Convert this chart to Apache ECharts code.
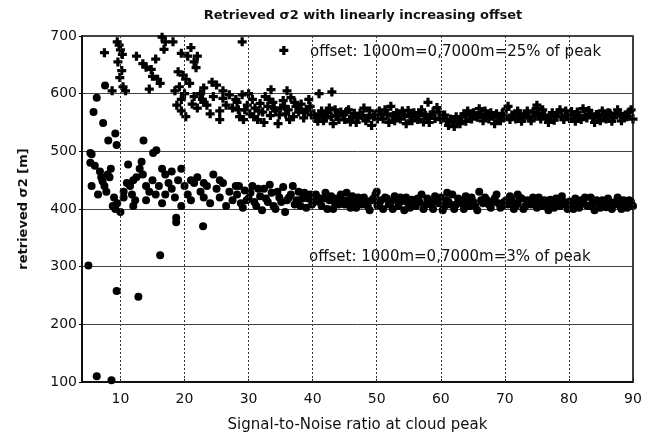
<!DOCTYPE html>
<html>
<head>
<meta charset="utf-8">
<script src="https://cdn.jsdelivr.net/npm/echarts@6/dist/echarts.min.js"></script>
<style>
  html, body { margin: 0; padding: 0; background: #fff; }
  #chart { width: 651px; height: 443px; }
</style>
</head>
<body>
<div id="chart"></div>
<script>
// tick labels
var xTicks = [10, 20, 30, 40, 50, 60, 70, 80, 90];
var yTicks = [100, 200, 300, 400, 500, 600, 700];

// crosses: offset 25% of peak  [snr, retrieved]
var crossScatter = [
  [7.5,671],[9.5,690],[9.8,684],[10,676],[10.3,668],[9.6,655],[10.2,640],[9.9,628],[10.4,612],
  [10.8,605],[8.7,605],[12.5,665],[13.5,652],[14,646],[14.8,642],[15.5,660],[15,630],[15.8,625],
  [16.2,618],[14.5,608],[16.5,698],[17,690],[16.8,677],[18.2,690],[19.5,670],[21,680],[20.5,665],
  [22,665],[21.5,655],[21.8,645],[19,638],[19.8,632],[20.2,625],[20.8,618],[19.2,612],[18.5,605],
  [20,600],[21.5,595],[22.5,600],[23,610],[24.3,620],[25,615],[22.8,590],[21.2,582],[19.5,590],
  [18.8,580],[19.5,570],[20.2,560],[22,575],[23.5,580],[24.5,595],[26,605],[27,598],[28,590],
  [27.5,575],[26.5,580],[25.5,570],[24,565],[29,690],[35.5,675],[25.5,555],[23,585],[26,592]
];
var crossBand = [
  [28.2,585],[28.6,560],[29,598],[29.4,572],[29.8,580],[30.2,565],[30.6,590],[31,575],[31.4,555],
  [31.8,583],[32.2,568],[32.6,595],[33,578],[33.4,562],[33.8,585],[34.2,570],[34.6,548],[35,575],
  [35.4,588],[35.8,565],[36.2,572],[36.6,593],[37,560],[37.4,578],[37.8,568],[38.2,582],[38.6,558],
  [39,572],[39.4,590],[39.8,563],[28.4,572],[29.2,555],[30,600],[30.8,560],[31.6,570],[32.4,550],
  [33.2,590],[34,575],[34.8,563],[35.6,578],[36.4,555],[37.2,585],[38,573],[38.8,567],[39.6,578],
  [36,605],[41,600],[43,603],[33.5,607],
  [40.2,565],[40.8,552],[41.4,570],[42,558],[42.6,575],[43.2,548],[43.8,562],[44.4,568],[45,555],
  [45.6,572],[46.2,560],[46.8,550],[47.4,566],[48,575],[48.6,558],[49.2,545],[49.8,563],[50.4,570],
  [51,556],[51.6,565],[52.2,578],[52.8,553],[53.4,562],[54,570],[54.6,548],[55.2,560],[55.8,567],
  [56.4,555],[57,572],[57.6,562],[58.2,550],[58.8,568],[59.4,576],[60,555],[60.6,563],[61.2,545],
  [61.8,552],[62.4,560],[63,548],[63.6,565],[64.2,570],[64.8,556],[65.4,562],[66,574],[66.6,553],
  [67.2,560],[67.8,567],[68.4,548],[69,558],[69.6,566],[70.2,573],[70.8,555],[71.4,561],[72,570],
  [72.6,552],[73.2,563],[73.8,558],[74.4,568],[75,575],[75.6,556],[76.2,562],[76.8,550],[77.4,567],
  [78,560],[78.6,572],[79.2,555],[79.8,563],[80.4,569],[81,552],[81.6,560],[82.2,574],[82.8,558],
  [83.4,565],[84,550],[84.6,562],[85.2,570],[85.8,556],[86.4,566],[87,559],[87.6,572],[88.2,553],
  [88.8,563],[89.4,568],[90,556],
  [40.5,558],[41.1,562],[41.7,553],[42.3,567],[42.9,560],[43.5,572],[44.1,555],[44.7,563],[45.3,569],
  [45.9,551],[46.5,566],[47.1,558],[47.7,562],[48.3,553],[48.9,570],[49.5,560],[50.1,556],[50.7,564],
  [51.3,572],[51.9,550],[52.5,561],[53.1,567],[53.7,556],[54.3,563],[54.9,571],[55.5,553],[56.1,562],
  [56.7,566],[57.3,551],[57.9,559],[58.5,563],[59.1,557],[59.7,568],[60.3,560],[60.9,553],[61.5,556],
  [62.1,543],[62.7,555],[63.3,560],[63.9,552],[64.5,562],[65.1,567],[65.7,559],[66.3,564],[66.9,570],
  [67.5,556],[68.1,562],[68.7,565],[69.3,553],[69.9,560],[70.5,578],[71.1,563],[71.7,556],[72.3,565],
  [72.9,560],[73.5,570],[74.1,553],[74.7,561],[75.3,566],[75.9,572],[76.5,558],[77.1,562],[77.7,554],
  [78.3,567],[78.9,560],[79.5,570],[80.1,557],[80.7,563],[81.3,568],[81.9,555],[82.5,562],[83.1,571],
  [83.7,559],[84.3,564],[84.9,553],[85.5,561],[86.1,567],[86.7,552],[87.3,563],[87.9,566],[88.5,559],
  [89.1,560],[89.7,572],[58,585],[75,580]
];

// dots: offset 3% of peak  [snr, retrieved]
var dotScatter = [
  [5.5,495],[5.3,480],[6,475],[5.5,440],[6.8,465],[7,455],[7.2,448],[7.5,440],[7.8,430],[6.5,425],
  [8,460],[8.5,470],[8.3,455],[9,420],[9.5,410],[9.2,400],[10,395],[8.8,405],[10.5,430],[11,445],
  [11.5,440],[12,450],[12.5,455],[11.8,425],[12.3,415],[13,470],[13.5,460],[14,440],[14.5,430],
  [15,450],[15.5,425],[16,440],[16.5,410],[17,460],[17.5,445],[18,435],[18.5,420],[19,450],
  [19.5,470],[20,440],[20.5,425],[21,415],[21.5,445],[22,455],[22.5,430],[23,420],[23.5,440],
  [24,410],[24.5,460],[25,435],[25.5,420],[26,445],[26.5,405],[27,430],[27.5,415],[28,440],
  [7.6,614],[6.3,593],[5.8,568],[7.3,549],[9.2,531],[8.1,519],[9.4,511],[5.3,497],[13.6,519],
  [15.6,502],[11.2,477],[13.3,482],[15.1,497],[16.5,470],[18,465],[21,450],[10.5,420],[12,405],
  [14,415],[17,425],[19.5,405],[23,445],[25.5,450],
  [6.3,110],[8.6,103],[9.4,258],[12.8,248],[16.2,320],[18.7,377],[18.7,385],[22.9,370],[5,302]
];
var dotBand = [
  [28.2,425],[28.8,410],[29.4,432],[30,418],[30.6,440],[31.2,405],[31.8,422],[32.4,435],[33,412],
  [33.6,428],[34.2,400],[34.8,420],[35.4,438],[36,415],[36.6,425],[37.2,408],[37.8,430],[38.4,418],
  [39,402],[39.6,425],[40.2,412],[40.8,420],[41.4,405],[42,428],[42.6,415],[43.2,400],[43.8,418],
  [44.4,425],[45,408],[45.6,415],[46.2,422],[46.8,402],[47.4,412],[48,420],[48.6,405],[49.2,415],
  [49.8,425],[50.4,410],[51,400],[51.6,418],[52.2,412],[52.8,422],[53.4,405],[54,414],[54.6,420],
  [55.2,402],[55.8,410],[56.4,418],[57,425],[57.6,407],[58.2,413],[58.8,400],[59.4,415],[60,420],
  [60.6,405],[61.2,412],[61.8,425],[62.4,408],[63,415],[63.6,400],[64.2,412],[64.8,420],[65.4,405],
  [66,430],[66.6,410],[67.2,415],[67.8,402],[68.4,418],[69,410],[69.6,405],[70.2,415],[70.8,422],
  [71.4,400],[72,410],[72.6,418],[73.2,405],[73.8,412],[74.4,420],[75,402],[75.6,410],[76.2,415],
  [76.8,398],[77.4,408],[78,418],[78.6,405],[79.2,412],[79.8,400],[80.4,410],[81,418],[81.6,402],
  [82.2,412],[82.8,406],[83.4,420],[84,398],[84.6,410],[85.2,415],[85.8,403],[86.4,412],[87,408],
  [87.6,420],[88.2,400],[88.8,410],[89.4,415],[90,405],
  [28.5,440],[29.1,402],[29.7,415],[30.3,428],[30.9,412],[31.5,435],[32.1,398],[32.7,418],[33.3,442],
  [33.9,405],[34.5,430],[35.1,412],[35.7,395],[36.3,420],[36.9,440],[37.5,415],[38.1,405],[38.7,428],
  [39.3,418],[39.9,408],[40.5,425],[41.1,412],[41.7,418],[42.3,400],[42.9,422],[43.5,410],[44.1,408],
  [44.7,415],[45.3,428],[45.9,402],[46.5,412],[47.1,420],[47.7,408],[48.3,412],[48.9,398],[49.5,418],
  [50.1,406],[50.7,415],[51.3,420],[51.9,408],[52.5,400],[53.1,415],[53.7,420],[54.3,398],[54.9,410],
  [55.5,416],[56.1,405],[56.7,412],[57.3,400],[57.9,418],[58.5,408],[59.1,422],[59.7,410],[60.3,398],
  [60.9,415],[61.5,408],[62.1,400],[62.7,418],[63.3,410],[63.9,422],[64.5,405],[65.1,412],[65.7,398],
  [66.3,415],[66.9,420],[67.5,408],[68.1,412],[68.7,425],[69.3,402],[69.9,412],[70.5,408],[71.1,415],
  [71.7,405],[72.3,420],[72.9,400],[73.5,415],[74.1,408],[74.7,412],[75.3,420],[75.9,405],[76.5,410],
  [77.1,416],[77.7,402],[78.3,410],[78.9,422],[79.5,408],[80.1,413],[80.7,400],[81.3,410],[81.9,415],
  [82.5,420],[83.1,405],[83.7,410],[84.3,415],[84.9,402],[85.5,408],[86.1,418],[86.7,400],[87.3,412],
  [87.9,406],[88.5,415],[89.1,402],[89.7,412],[50,430],[61,428],[72,425]
];

var font = 'DejaVu Sans';
var plus = 'path://M3.2,0H6.8V3.2H10V6.8H6.8V10H3.2V6.8H0V3.2H3.2Z';

var chart = echarts.init(document.getElementById('chart'));
var option = {
    backgroundColor: '#fff',
    animation: false,
    title: {
        text: 'Retrieved σ2 with linearly increasing offset',
        left: 358, top: 4, textAlign: 'center',
        textStyle: { fontFamily: font, fontSize: 13, fontWeight: 'bold', color: '#111' }
    },
    grid: { left: 82, right: 18, top: 36, bottom: 61, show: true, borderColor: '#000', borderWidth: 1.5 },
    xAxis: {
        type: 'value', min: 4, max: 90,
        name: 'Signal-to-Noise ratio at cloud peak',
        nameLocation: 'middle', nameGap: 36,
        nameTextStyle: { fontFamily: font, fontSize: 15, color: '#111' },
        axisLine: { lineStyle: { color: '#000', width: 1.5 } },
        axisTick: { show: true, inside: true, length: 3, customValues: xTicks, lineStyle: { color: '#000' } },
        axisLabel: { customValues: xTicks, fontFamily: font, fontSize: 14, color: '#111', margin: 10 },
        splitLine: { show: false }
    },
    yAxis: {
        type: 'value', min: 100, max: 700, interval: 100,
        name: 'retrieved σ2 [m]',
        nameLocation: 'middle', nameGap: 52, nameRotate: 90,
        nameTextStyle: { fontFamily: font, fontSize: 13, fontWeight: 'bold', color: '#111' },
        axisLine: { lineStyle: { color: '#000', width: 1.5 } },
        axisTick: { show: true, inside: false, length: 3, lineStyle: { color: '#000' } },
        axisLabel: { fontFamily: font, fontSize: 14, color: '#111', margin: 5 },
        splitLine: { show: true, lineStyle: { color: '#444', type: 'solid', width: 1 } }
    },
    graphic: [
        { type: 'text', left: 310, top: 45,
          style: { text: 'offset: 1000m=0,7000m=25% of peak', font: '15px "DejaVu Sans"', fill: '#111' } },
        { type: 'text', left: 309, top: 250,
          style: { text: 'offset: 1000m=0,7000m=3% of peak', font: '15px "DejaVu Sans"', fill: '#111' } }
    ],
    series: [
        {
            type: 'scatter', name: 'grid', data: [], silent: true,
            markLine: {
                silent: true, symbol: 'none', label: { show: false },
                lineStyle: { color: '#333', type: [2, 2], width: 1 },
                data: xTicks.map(function (v) { return { xAxis: v }; })
            }
        },
        { type: 'scatter', name: 'cross', symbol: plus, symbolSize: 9,
          itemStyle: { color: '#000', opacity: 1 },
          data: crossScatter.concat(crossBand) },
        { type: 'scatter', name: 'dot', symbol: 'circle', symbolSize: 8,
          itemStyle: { color: '#000', opacity: 1 },
          data: dotScatter.concat(dotBand) }
    ]
};
chart.setOption(option);
</script>
</body>
</html>
